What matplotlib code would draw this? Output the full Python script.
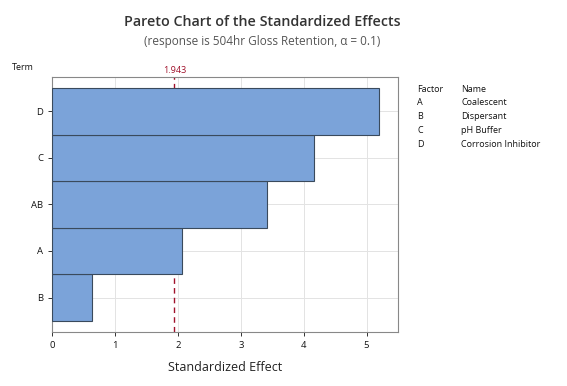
import matplotlib
matplotlib.use('Agg')
from matplotlib import pyplot as plt

terms = ['B', 'A', 'AB', 'C', 'D']
effects = [0.63, 2.06, 3.42, 4.16, 5.20]
crit = 1.943
factors = ['A', 'B', 'C', 'D']
names = ['Coalescent', 'Dispersant', 'pH Buffer', 'Corrosion Inhibitor']

plt.rcParams['font.family'] = ['Open Sans', 'DejaVu Sans']

fig = plt.figure(figsize=(5.67, 3.86), dpi=100)
ax = fig.add_axes([0.092, 0.14, 0.610, 0.661])

ypos = list(range(len(terms)))
ax.barh(ypos, effects, height=1.0, color='#7BA3D9', edgecolor='#3a4a5c', linewidth=0.8, zorder=3)
# reference line sits behind the bars
ax.axvline(crit, color='#a0102a', linestyle=(0, (4, 3)), linewidth=1.0, zorder=2)
ax.text(crit, 4.78, '%.3f' % crit, color='#a0102a', fontsize=6.5, ha='center', va='bottom')

ax.set_xlim(0, 5.5)
ax.set_ylim(-0.74, 4.74)
ax.set_yticks(ypos)
ax.set_yticklabels(terms)
ax.set_xticks([0, 1, 2, 3, 4, 5])
ax.tick_params(labelsize=6.8, colors='#111111', length=3, width=0.6)
ax.grid(True, color='#e3e3e3', linewidth=0.7, zorder=0)
for s in ax.spines.values():
    s.set_color('#888888')
    s.set_linewidth(0.8)

ax.set_xlabel('Standardized Effect', fontsize=9, color='#222222', labelpad=8)
fig.text(12 / 567, 1 - 67 / 386, 'Term', fontsize=6.5, color='#111111', va='center')

xc = 262 / 567
fig.text(xc, 1 - 22 / 386, 'Pareto Chart of the Standardized Effects', fontsize=10.3,
         fontweight='semibold', color='#333333', ha='center', va='center')
fig.text(xc, 1 - 41 / 386, '(response is 504hr Gloss Retention, \u03b1 = 0.1)', fontsize=8.5,
         color='#555555', ha='center', va='center')

# factor table
x1 = 417 / 567
x2 = 461 / 567
y0 = 1 - 89 / 386
dy = 13.8 / 386
fig.text(x1, y0, 'Factor', fontsize=6.5, color='#111111', va='center')
fig.text(x2, y0, 'Name', fontsize=6.5, color='#111111', va='center')
for i in range(len(factors)):
    fig.text(x1, y0 - (i + 1) * dy, factors[i], fontsize=6.5, color='#111111', va='center')
    fig.text(x2, y0 - (i + 1) * dy, names[i], fontsize=6.5, color='#111111', va='center')

fig.savefig('out.png', dpi=100)
